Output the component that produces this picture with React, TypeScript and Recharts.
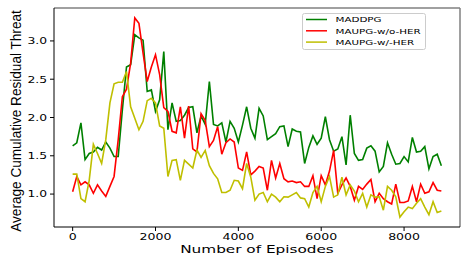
import React from 'react';
import { LineChart, Line, XAxis, YAxis, Legend, ReferenceLine } from 'recharts';

// episodes sampled every 100 steps, 0 .. 8900
const episodes = Array.from({ length: 90 }, (_, i) => i * 100);

const maddpg = [
  1.63, 1.67, 1.93, 1.45, 1.53, 1.55, 1.61, 1.575, 1.68, 1.6,
  1.49, 1.49, 2.1, 2.66, 2.69, 3.08, 3.04, 3.01, 2.34, 2.36,
  2.08, 2.23, 2.86, 1.84, 2.19, 1.95, 1.96, 2.03, 2.13, 2.14,
  1.8, 2.02, 1.91, 2.47, 1.91, 1.89, 1.93, 1.68, 1.95, 1.86,
  1.68, 1.9, 2.14, 1.86, 1.73, 2.12, 2.02, 1.71, 1.75, 1.79,
  1.88, 1.89, 1.62, 1.85, 1.82, 1.81, 1.4, 1.61, 1.76, 1.65,
  1.73, 2.01, 1.71, 1.56, 1.59, 1.75, 1.38, 2.03, 1.53, 1.44,
  1.45, 1.6, 1.63, 1.56, 1.29, 1.36, 1.67, 1.52, 1.39, 1.4,
  1.49, 1.42, 1.74, 1.55, 1.56, 1.62, 1.33, 1.49, 1.52, 1.37,
];

const maupgWoHer = [
  1.03, 1.23, 1.12, 1.16, 1.12, 1.01, 1.12, 1.04, 0.97, 1.1,
  1.23, 1.71, 2.27, 2.37, 2.71, 3.3, 3.23, 2.84, 2.47, 2.66,
  2.82, 2.56, 2.13, 2.08, 1.82, 1.8, 2.14, 1.73, 2.15, 1.59,
  1.55, 2.05, 1.96, 1.62, 1.7, 1.88, 1.52, 1.67, 1.72, 1.68,
  1.34, 1.31, 1.55, 1.25, 1.3, 1.36, 1.34, 1.05, 1.44, 1.21,
  1.4, 1.2, 1.16, 1.17, 1.15, 1.16, 1.1, 1.1, 1.24, 0.94,
  1.24, 1.12, 1.3, 1.57, 1.01, 1.12, 1.21, 1.1, 0.92, 1.1,
  1.06, 1.13, 1.19, 0.9, 1.01, 0.94, 0.9, 0.87, 1.13, 0.89,
  0.89, 0.91, 1.1, 0.9, 1.13, 1.01, 1.03, 1.15, 1.05, 1.04,
];

const maupgWHer = [
  1.26, 1.26, 0.94, 0.9, 1.18, 1.65, 1.53, 1.4, 1.71, 2.19,
  2.44, 2.46, 2.46, 2.6, 2.14, 1.99, 1.84, 1.95, 2.22, 2.25,
  2.19, 1.89, 1.86, 1.23, 1.44, 1.45, 1.18, 1.44, 1.39, 1.34,
  1.575, 1.48, 1.57, 1.37, 1.27, 1.2, 1.02, 1.02, 1.05, 1.18,
  1.17, 1.07, 1.4, 1.22, 0.92, 1.0, 1.02, 0.9, 1.0, 0.96,
  0.9, 0.965, 0.96, 0.99, 1.02, 0.95, 0.94, 0.83, 1.02, 1.1,
  0.9, 1.1, 1.23, 0.96, 0.99, 1.22, 0.99, 1.12, 1.04, 0.9,
  1.01, 0.83, 0.99, 0.96, 0.965, 0.79, 1.1, 1.05, 0.965, 0.7,
  0.77, 0.83, 0.81, 0.88, 0.94, 0.83, 0.73, 0.9, 0.76, 0.78,
];

const xTicks = [0, 2000, 4000, 6000, 8000];
const yTicks = [1.0, 1.5, 2.0, 2.5, 3.0];

const series = [
  { key: 'maddpg', name: 'MADDPG', color: '#008000' },
  { key: 'woHer', name: 'MAUPG-w/o-HER', color: '#ff0000' },
  { key: 'wHer', name: 'MAUPG-w/-HER', color: '#bfbf00' },
];

const data = episodes.map((ep, i) => ({
  episode: ep,
  maddpg: maddpg[i],
  woHer: maupgWoHer[i],
  wHer: maupgWHer[i],
}));

const X_MIN = -450;
const X_MAX = 9350;
const Y_MIN = 0.57;
const Y_MAX = 3.43;

const FONT = '"DejaVu Sans", sans-serif';

const XTick = (props: any) => {
  const { x, y, payload } = props;
  return (
    <text
      transform={`translate(${x},${y + 7}) scale(1.32,1)`}
      textAnchor="middle"
      fontFamily={FONT}
      fontSize={9.5}
      fill="#000"
    >
      {payload.value}
    </text>
  );
};

const YTick = (props: any) => {
  const { x, y, payload } = props;
  return (
    <text
      transform={`translate(${x},${y + 3.4}) scale(1.3,1)`}
      textAnchor="end"
      fontFamily={FONT}
      fontSize={9.5}
      fill="#000"
    >
      {Number(payload.value).toFixed(1)}
    </text>
  );
};

const XTitle = (props: any) => {
  const vb = props.viewBox || { x: 54, width: 406 };
  const cx = vb.x + vb.width / 2;
  return (
    <text
      transform={`translate(${cx},253) scale(1.39,1)`}
      textAnchor="middle"
      fontFamily={FONT}
      fontSize={11}
      fill="#000"
    >
      Number of Episodes
    </text>
  );
};

const YTitle = () => (
  <text
    transform="translate(20.5,121) scale(1.1,1) rotate(-90)"
    textAnchor="middle"
    fontFamily='"Liberation Sans", Arial, sans-serif'
    fontSize={13.6}
    fill="#000"
  >
    Average Cumulative Residual Threat
  </text>
);

const LegendBox = () => (
  <svg width={124} height={37} style={{ display: 'block' }}>
    <rect x={0.5} y={0.5} width={123} height={36} rx={2} fill="#fff" stroke="#cccccc" />
    {series.map((s, i) => {
      const cy = 6.5 + i * 11.3;
      return (
        <g key={s.key}>
          <line x1={4} x2={25} y1={cy} y2={cy} stroke={s.color} strokeWidth={1.5} />
          <text
            transform={`translate(33.5,${cy + 2.8}) scale(1.36,1)`}
            fontFamily={FONT}
            fontSize={7.6}
            fill="#000"
          >
            {s.name}
          </text>
        </g>
      );
    })}
  </svg>
);

export default function App() {
  return (
    <div style={{ position: 'absolute', left: 0, top: 0, width: 471, height: 263, background: '#fff' }}>
      <LineChart
        width={471}
        height={263}
        data={data}
        margin={{ top: 8, right: 11, bottom: 0, left: 0 }}
      >
        <XAxis
          dataKey="episode"
          type="number"
          domain={[X_MIN, X_MAX]}
          ticks={xTicks}
          allowDataOverflow
          height={36}
          tickSize={4}
          tickMargin={2}
          tick={<XTick />}
          axisLine={{ stroke: '#000', strokeWidth: 1 }}
          tickLine={{ stroke: '#000' }}
          label={{ content: <XTitle /> }}
        />
        <YAxis
          type="number"
          domain={[Y_MIN, Y_MAX]}
          ticks={yTicks}
          allowDataOverflow
          width={54}
          tickSize={4}
          tickMargin={3}
          tick={<YTick />}
          axisLine={{ stroke: '#000', strokeWidth: 1 }}
          tickLine={{ stroke: '#000' }}
          label={{ content: <YTitle /> }}
        />
        <ReferenceLine y={Y_MAX} stroke="#808080" strokeWidth={1.5} />
        <ReferenceLine x={X_MAX} stroke="#808080" strokeWidth={1.5} />
        {series.map((s) => (
          <Line
            key={s.key}
            type="linear"
            dataKey={s.key}
            name={s.name}
            stroke={s.color}
            strokeWidth={1.6}
            dot={false}
            activeDot={false}
            isAnimationActive={false}
          />
        ))}
        <Legend
          layout="vertical"
          align="center"
          verticalAlign="middle"
          content={<LegendBox />}
          wrapperStyle={{ left: 302, top: 13, width: 124, height: 37, bottom: 'auto', right: 'auto' }}
        />
      </LineChart>
    </div>
  );
}
